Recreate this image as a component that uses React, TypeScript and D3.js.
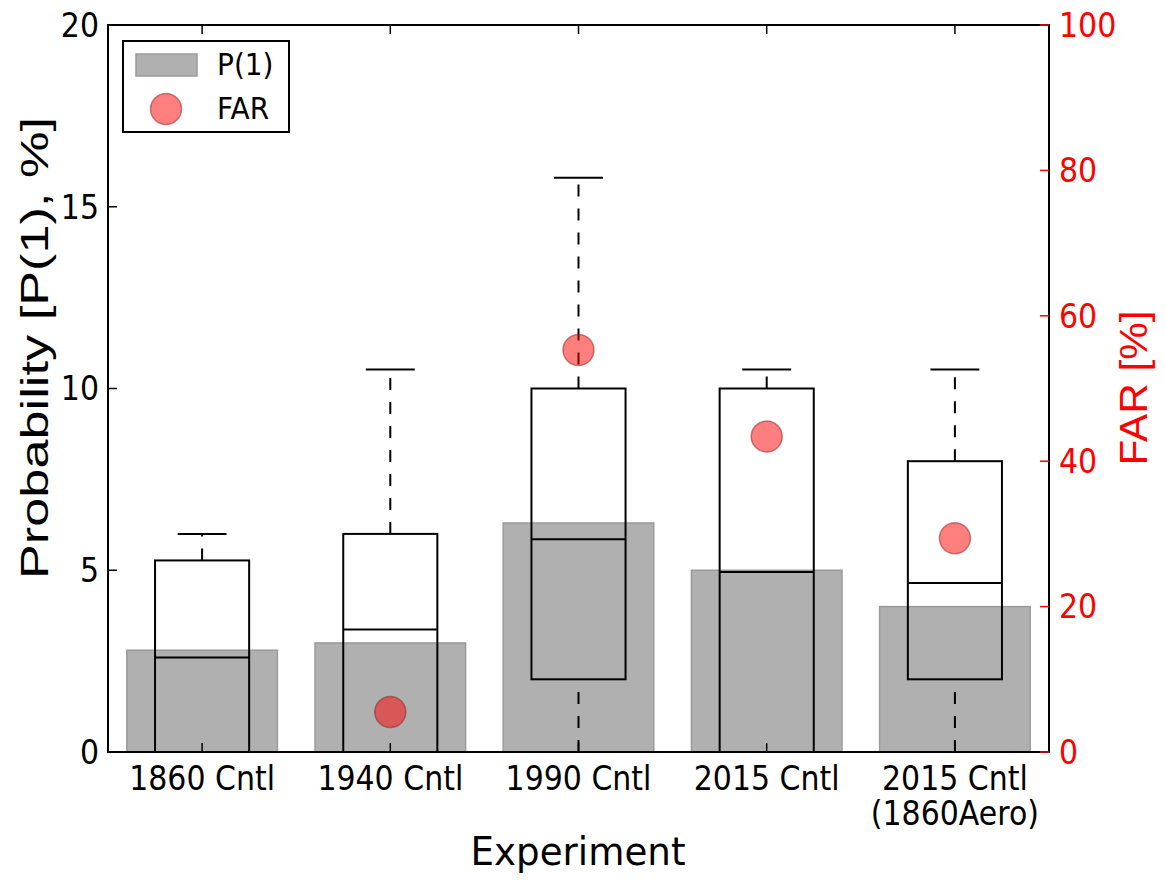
import React, { useEffect } from 'react';
import * as d3 from 'd3';

const categories = ['1860 Cntl', '1940 Cntl', '1990 Cntl', '2015 Cntl', '2015 Cntl\n(1860Aero)'];
const p1Values = [2.8, 3.0, 6.3, 5.0, 4.0];
const whiskerLow = [0, 0, 0, 0, 0];
const q1Values = [0, 0, 2.0, 0, 2.0];
const medianValues = [2.6, 3.37, 5.85, 4.95, 4.65];
const q3Values = [5.27, 6.0, 10.0, 10.0, 8.0];
const whiskerHigh = [6.0, 10.52, 15.8, 10.52, 10.52];
const farValues = [null, 5.5, 55.3, 43.4, 29.4];
const leftTicks = [0, 5, 10, 15, 20];
const rightTicks = [0, 20, 40, 60, 80, 100];

function App() {
	useEffect(() => {
		document.body.style.margin = '0';
	}, []);

	const W = 1165;
	const H = 880;
	const left = 108, right = 1049, top = 25, bottom = 752;

	const x = d3.scaleBand().domain(categories).range([left, right]).paddingInner(0.2).paddingOuter(0.1);
	const y = d3.scaleLinear().domain([0, 20]).range([bottom, top]);
	const yFar = d3.scaleLinear().domain([0, 100]).range([bottom, top]);
	const step = x.step();
	const boxW = step * 0.5;
	const capW = step * 0.26;
	const tickFont = 'DejaVu Sans, sans-serif';
	const sy = 1.1; // text in the picture is a bit taller than wide

	return (
		<svg width={W} height={H} style={{ display: 'block' }}>
			<rect width={W} height={H} fill="#fff" />

			{/* gray P(1) bars */}
			{categories.map((c, i) => (
				<rect key={'bar' + i} x={x(c)} y={y(p1Values[i])} width={x.bandwidth()}
					height={y(0) - y(p1Values[i])} fill="#b0b0b0" stroke="#9a9a9a" strokeWidth={1.5} />
			))}

			{/* box plots */}
			{categories.map((c, i) => {
				const cx = x(c) + x.bandwidth() / 2;
				return (
					<g key={'box' + i} stroke="#000" strokeWidth={2} fill="none">
						<rect x={cx - boxW / 2} y={y(q3Values[i])} width={boxW} height={y(q1Values[i]) - y(q3Values[i])} />
						<line x1={cx - boxW / 2} x2={cx + boxW / 2} y1={y(medianValues[i])} y2={y(medianValues[i])} />
						<line x1={cx} x2={cx} y1={y(q3Values[i])} y2={y(whiskerHigh[i])} strokeDasharray="12,12" />
						{q1Values[i] > whiskerLow[i] && (
							<line x1={cx} x2={cx} y1={y(whiskerLow[i])} y2={y(q1Values[i])} strokeDasharray="12,12" />
						)}
						<line x1={cx - capW / 2} x2={cx + capW / 2} y1={y(whiskerHigh[i])} y2={y(whiskerHigh[i])} />
						<line x1={cx - capW / 2} x2={cx + capW / 2} y1={y(whiskerLow[i])} y2={y(whiskerLow[i])} />
					</g>
				);
			})}

			{/* FAR dots */}
			{categories.map((c, i) => farValues[i] == null ? null : (
				<circle key={'far' + i} cx={x(c) + x.bandwidth() / 2} cy={yFar(farValues[i])} r={15.5}
					fill="rgba(255,0,0,0.5)" stroke="rgba(140,30,30,0.5)" strokeWidth={1.5} />
			))}

			{/* frame */}
			<rect x={left} y={top} width={right - left} height={bottom - top} fill="none" stroke="#000" strokeWidth={2} />

			{/* left ticks */}
			{leftTicks.map(t => (
				<g key={'lt' + t}>
					<line x1={left} x2={left + 9} y1={y(t)} y2={y(t)} stroke="#000" strokeWidth={1.5} />
					<g transform={`translate(${left - 9},${y(t)}) scale(1,${sy})`}>
						<text dy="0.36em" textAnchor="end" fontFamily={tickFont} fontSize={30}>{t}</text>
					</g>
				</g>
			))}

			{/* right ticks */}
			{rightTicks.map(t => (
				<g key={'rt' + t}>
					<line x1={right - 9} x2={right} y1={yFar(t)} y2={yFar(t)} stroke="red" strokeWidth={1.5} />
					<g transform={`translate(${right + 10},${yFar(t)}) scale(1,${sy})`}>
						<text dy="0.36em" textAnchor="start" fontFamily={tickFont} fontSize={30} fill="red">{t}</text>
					</g>
				</g>
			))}

			{/* x ticks */}
			{categories.map((c, i) => {
				const cx = x(c) + x.bandwidth() / 2;
				const lines = c.split('\n');
				return (
					<g key={'xt' + i}>
						<line x1={cx} x2={cx} y1={bottom} y2={bottom - 9} stroke="#000" strokeWidth={1.5} />
						<line x1={cx} x2={cx} y1={top} y2={top + 9} stroke="#000" strokeWidth={1.5} />
						<g transform={`translate(${cx},${bottom + 38}) scale(1,${sy})`}>
							<text textAnchor="middle" fontFamily={tickFont} fontSize={30}>
								{lines.map((l, k) => (
									<tspan key={k} x={0} dy={k === 0 ? 0 : 32}>{l}</tspan>
								))}
							</text>
						</g>
					</g>
				);
			})}

			{/* axis labels */}
			<g transform={`translate(578,865) scale(1,${sy})`}>
				<text textAnchor="middle" fontFamily={tickFont} fontSize={36}
					textLength={215} lengthAdjust="spacingAndGlyphs">Experiment</text>
			</g>
			<text transform="translate(48,348) rotate(-90)" textAnchor="middle" fontFamily="Liberation Sans, Arial, sans-serif"
				fontSize={38} textLength={462} lengthAdjust="spacingAndGlyphs">Probability [P(1), %]</text>
			<text transform="translate(1147,388) rotate(-90)" textAnchor="middle" fontFamily="Liberation Sans, Arial, sans-serif"
				fontSize={38} fill="red" textLength={155} lengthAdjust="spacingAndGlyphs">FAR [%]</text>

			{/* legend */}
			<g>
				<rect x={123} y={41} width={166} height={91} fill="#fff" stroke="#000" strokeWidth={2} />
				<rect x={136} y={54} width={61} height={22} fill="#b0b0b0" stroke="#9a9a9a" strokeWidth={1.5} />
				<g transform={`translate(217,75) scale(1,${sy})`}>
					<text fontFamily={tickFont} fontSize={28}>P(1)</text>
				</g>
				<circle cx={166} cy={109} r={15.5} fill="rgba(255,0,0,0.5)" stroke="rgba(140,30,30,0.5)" strokeWidth={1.5} />
				<g transform={`translate(217,119) scale(1,${sy})`}>
					<text fontFamily={tickFont} fontSize={28}>FAR</text>
				</g>
			</g>
		</svg>
	);
}

export default App;
